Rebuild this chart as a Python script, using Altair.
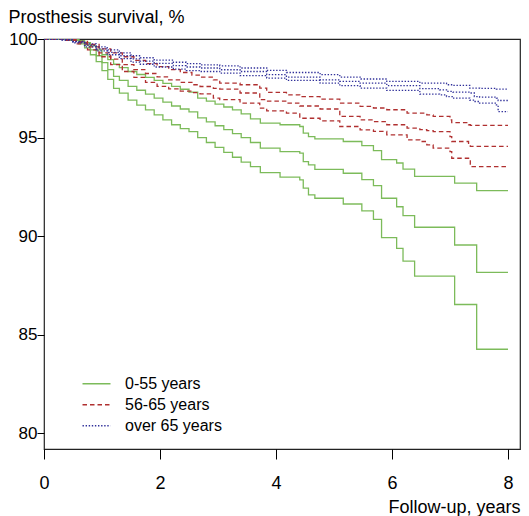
import altair as alt
import pandas as pd

FONT = "Liberation Sans"

groups = ["0-55 years", "56-65 years", "over 65 years"]
colors = ["#7cbb5a", "#b03030", "#30309a"]
dashes = [[1, 0], [4.5, 3], [1.4, 1.7]]

# ---- 0-55 years (green) ----
t_g = [0, 0.45, 0.6, 0.7, 0.8, 0.9, 1.0, 1.1, 1.2, 1.3, 1.45, 1.6, 1.75, 1.9, 2.05,
       2.2, 2.35, 2.5, 2.65, 2.8, 2.95, 3.1, 3.25, 3.4, 3.56, 3.73, 4.07, 4.41, 4.47,
       4.56, 4.67, 5.16, 5.48, 5.68, 5.82, 6.08, 6.19, 6.39, 7.08, 7.46, 8.0]
g_up = [100, 99.97, 99.92, 99.82, 99.65, 99.45, 99.2, 98.95, 98.72, 98.55, 98.35, 98.2,
        98.05, 97.9, 97.75, 97.6, 97.45, 97.3, 97.0, 96.85, 96.7, 96.55, 96.4, 96.2,
        95.95, 95.73, 95.65, 95.56, 95.22, 95.05, 94.93, 94.80, 94.59, 94.34, 93.88,
        93.71, 93.40, 93.03, 92.69, 92.31, 92.31]
g_est = [100, 99.95, 99.85, 99.7, 99.45, 99.15, 98.8, 98.45, 98.1, 97.9, 97.6, 97.4,
         97.2, 97.0, 96.8, 96.6, 96.45, 96.3, 96.0, 95.8, 95.6, 95.4, 95.2, 95.0,
         94.75, 94.46, 94.29, 94.21, 93.78, 93.61, 93.39, 93.19, 92.87, 92.56, 91.92,
         91.49, 91.04, 90.45, 89.55, 88.16, 88.16]
g_lo = [100, 99.93, 99.75, 99.55, 99.2, 98.85, 98.4, 97.95, 97.5, 97.25, 96.9, 96.65,
        96.4, 96.15, 95.9, 95.65, 95.45, 95.3, 95.0, 94.75, 94.5, 94.25, 94.0, 93.75,
        93.53, 93.22, 92.99, 92.85, 92.43, 92.09, 91.92, 91.63, 91.28, 90.85, 89.92,
        89.38, 88.73, 87.97, 86.53, 84.26, 84.26]

# ---- 56-65 years (red) ----
t_r = [0, 0.35, 0.55, 0.75, 0.95, 1.15, 1.35, 1.55, 1.75, 1.95, 2.15, 2.35, 2.55, 2.69,
       2.92, 3.03, 3.38, 3.72, 3.84, 4.18, 4.41, 4.76, 5.10, 5.45, 5.68, 5.91, 6.26,
       6.48, 6.60, 6.71, 7.0, 7.03, 7.32, 7.35, 8.0]
r_up = [100, 99.97, 99.88, 99.72, 99.5, 99.3, 99.1, 98.92, 98.75, 98.6, 98.45, 98.3,
        98.17, 98.07, 97.93, 97.76, 97.68, 97.51, 97.29, 97.17, 97.08, 96.95, 96.75,
        96.58, 96.5, 96.41, 96.24, 96.24, 96.15, 96.07, 95.90, 95.76, 95.65, 95.62, 95.62]
r_est = [100, 99.95, 99.82, 99.6, 99.3, 98.98, 98.7, 98.45, 98.25, 98.08, 97.93, 97.8,
         97.68, 97.59, 97.5, 97.46, 97.26, 96.92, 96.85, 96.75, 96.6, 96.45, 96.07,
         95.90, 95.81, 95.65, 95.48, 95.4, 95.35, 95.30, 95.05, 94.80, 94.71, 94.55, 94.55]
r_lo = [100, 99.93, 99.75, 99.45, 99.1, 98.7, 98.35, 98.05, 97.8, 97.6, 97.47, 97.36,
        97.28, 97.22, 97.0, 96.92, 96.75, 96.49, 96.35, 96.24, 95.98, 95.85, 95.56,
        95.39, 95.31, 95.14, 94.88, 94.80, 94.63, 94.46, 94.29, 93.95, 93.87, 93.53, 93.53]

# ---- over 65 years (blue) ----
t_b = [0, 0.3, 0.5, 0.7, 0.9, 1.09, 1.3, 1.5, 1.66, 1.9, 2.23, 2.45, 2.69, 3.03, 3.38,
       3.84, 4.18, 4.76, 5.10, 5.45, 5.91, 6.48, 6.82, 6.94, 7.05, 7.34, 7.42, 7.51,
       7.80, 7.83, 8.0]
b_up = [100, 99.98, 99.88, 99.75, 99.6, 99.45, 99.3, 99.15, 99.05, 98.93, 98.82, 98.75,
        98.69, 98.64, 98.53, 98.41, 98.30, 98.19, 98.07, 97.97, 97.85, 97.76, 97.76,
        97.68, 97.65, 97.51, 97.51, 97.5, 97.46, 97.46, 97.46]
b_est = [100, 99.96, 99.84, 99.68, 99.5, 99.32, 99.15, 98.99, 98.88, 98.76, 98.65, 98.58,
         98.53, 98.44, 98.35, 98.19, 98.07, 97.93, 97.85, 97.76, 97.63, 97.48, 97.42,
         97.34, 97.30, 97.26, 97.08, 97.05, 97.0, 96.88, 96.88]
b_lo = [100, 99.94, 99.8, 99.6, 99.4, 99.2, 99.0, 98.83, 98.72, 98.58, 98.47, 98.4,
        98.35, 98.27, 98.14, 98.02, 97.90, 97.76, 97.63, 97.51, 97.39, 97.2, 97.17,
        97.08, 97.0, 96.9, 96.83, 96.75, 96.66, 96.32, 96.32]

x_ticks = [0, 2, 4, 6, 8]
y_ticks = [80, 85, 90, 95, 100]

rows = []
for grp, t, series in [
    (groups[0], t_g, {"upper": g_up, "estimate": g_est, "lower": g_lo}),
    (groups[1], t_r, {"upper": r_up, "estimate": r_est, "lower": r_lo}),
    (groups[2], t_b, {"upper": b_up, "estimate": b_est, "lower": b_lo}),
]:
    for name, vals in series.items():
        for ti, vi in zip(t, vals):
            rows.append({"group": grp, "key": grp + " " + name, "t": ti, "v": vi})
df = pd.DataFrame(rows)

legend = alt.Legend(
    title=None, orient="none", legendX=37.5, legendY=334.5,
    symbolType="stroke", symbolSize=784, symbolStrokeWidth=1.3,
    labelFont=FONT, labelFontSize=16, labelColor="black", labelOffset=13.5,
    clipHeight=20.5, rowPadding=0, padding=0,
)

chart = alt.Chart(df).mark_line(interpolate="step-after", strokeWidth=1.3, clip=True).encode(
    x=alt.X("t:Q", title="Follow-up, years",
            scale=alt.Scale(domain=[0, 8.207], nice=False, zero=False),
            axis=alt.Axis(values=x_ticks, format="d", domain=False, grid=False,
                          tickSize=10, tickColor="black", labelPadding=15,
                          labelFlush=False, labelFont=FONT, labelFontSize=18,
                          labelColor="black", titleFont=FONT, titleFontSize=18,
                          titleFontWeight="normal", titleColor="black",
                          titleAlign="right", titleBaseline="alphabetic",
                          titleX=476, titleY=63.5)),
    y=alt.Y("v:Q", title="Prosthesis survival, %",
            scale=alt.Scale(domain=[79.2, 100], nice=False, zero=False),
            axis=alt.Axis(values=y_ticks, format="d", domain=False, grid=False,
                          tickSize=7, tickColor="black", labelPadding=0,
                          labelFont=FONT, labelFontSize=17, labelColor="black",
                          labelBaseline="middle",
                          titleFont=FONT, titleFontSize=18, titleFontWeight="normal",
                          titleColor="black", titleAngle=0, titleAlign="left",
                          titleBaseline="alphabetic", titleX=-36, titleY=-17)),
    color=alt.Color("group:N", scale=alt.Scale(domain=groups, range=colors), legend=legend),
    strokeDash=alt.StrokeDash("group:N", scale=alt.Scale(domain=groups, range=dashes), legend=legend),
    detail="key:N",
).properties(
    width=476, height=410,
    autosize=alt.AutoSizeParams(type="none"),
    padding={"left": 36, "top": 31, "right": 1, "bottom": 70},
).configure_view(stroke="#222222", strokeWidth=1.2)

chart.save("out.html", embed_options={"renderer": "svg", "actions": False})
